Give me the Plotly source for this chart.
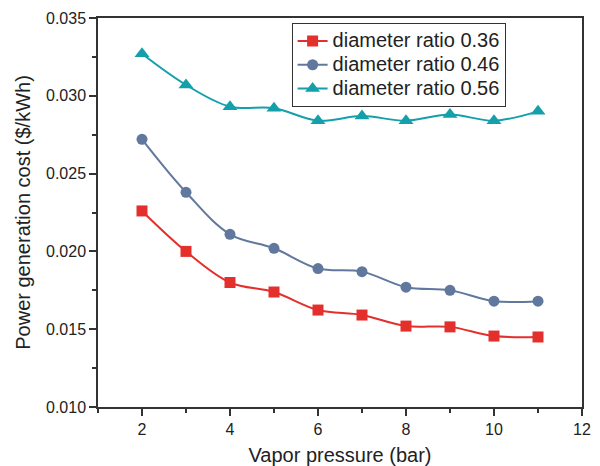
import plotly.graph_objects as go

pressure = [2, 3, 4, 5, 6, 7, 8, 9, 10, 11]
ratio_036 = [0.0226, 0.0200, 0.0180, 0.01739, 0.01623, 0.01591, 0.0152, 0.01515, 0.01456, 0.01450]
ratio_046 = [0.0272, 0.0238, 0.0211, 0.0202, 0.0189, 0.0187, 0.0177, 0.0175, 0.0168, 0.0168]
ratio_056 = [0.0327, 0.0307, 0.0293, 0.0292, 0.0284, 0.0287, 0.0284, 0.0288, 0.0284, 0.0290]
names = ["diameter ratio 0.36", "diameter ratio 0.46", "diameter ratio 0.56"]

colors = ["#E3302C", "#61789E", "#13A0AA"]
symbols = ["square", "circle", "triangle-up"]
sizes = [11, 11, 13]

FONT = "Liberation Sans, Arial, sans-serif"

fig = go.Figure()
for ys, name, c, s, sz in zip([ratio_036, ratio_046, ratio_056], names, colors, symbols, sizes):
    fig.add_trace(go.Scatter(
        x=pressure, y=ys, name='<span style="font-size:20px">' + name + '</span>',
        mode="lines+markers",
        line=dict(color=c, width=2, shape="spline", smoothing=1.0),
        marker=dict(symbol=s, size=sz, color=c),
    ))

axis_common = dict(
    showline=True, linecolor="#333333", linewidth=1.5, mirror=True,
    ticks="outside", ticklen=7, tickcolor="#333333", tickwidth=1.5,
    showgrid=False, zeroline=False, automargin=False,
    tickfont=dict(family=FONT, size=16, color="#222222"),
)

fig.update_xaxes(
    range=[1, 12], tickvals=[2, 4, 6, 8, 10, 12],
    minor=dict(tickvals=[1, 3, 5, 7, 9, 11], ticklen=4, tickcolor="#333333", ticks="outside"),
    title=dict(text="Vapor pressure (bar)", font=dict(family=FONT, size=20, color="#222222"), standoff=12),
    **axis_common,
)
fig.update_yaxes(
    range=[0.010, 0.035], tickvals=[0.010, 0.015, 0.020, 0.025, 0.030, 0.035], tickformat=".3f",
    minor=dict(tickvals=[0.0125, 0.0175, 0.0225, 0.0275, 0.0325], ticklen=4, tickcolor="#333333", ticks="outside"),
    title=dict(text="Power generation cost ($/kWh)", font=dict(family=FONT, size=20, color="#222222"), standoff=10),
    **axis_common,
)

fig.update_layout(
    template="none",
    width=592, height=458,
    margin=dict(l=90, r=18, t=10, b=59),
    plot_bgcolor="white", paper_bgcolor="white",
    legend=dict(
        x=0.4, y=0.987, xanchor="left", yanchor="top",
        bordercolor="#333333", borderwidth=1, bgcolor="white",
        font=dict(family=FONT, size=16, color="#222222"),
        tracegroupgap=0,
    ),
    showlegend=True,
)

fig.write_html("out.html")
